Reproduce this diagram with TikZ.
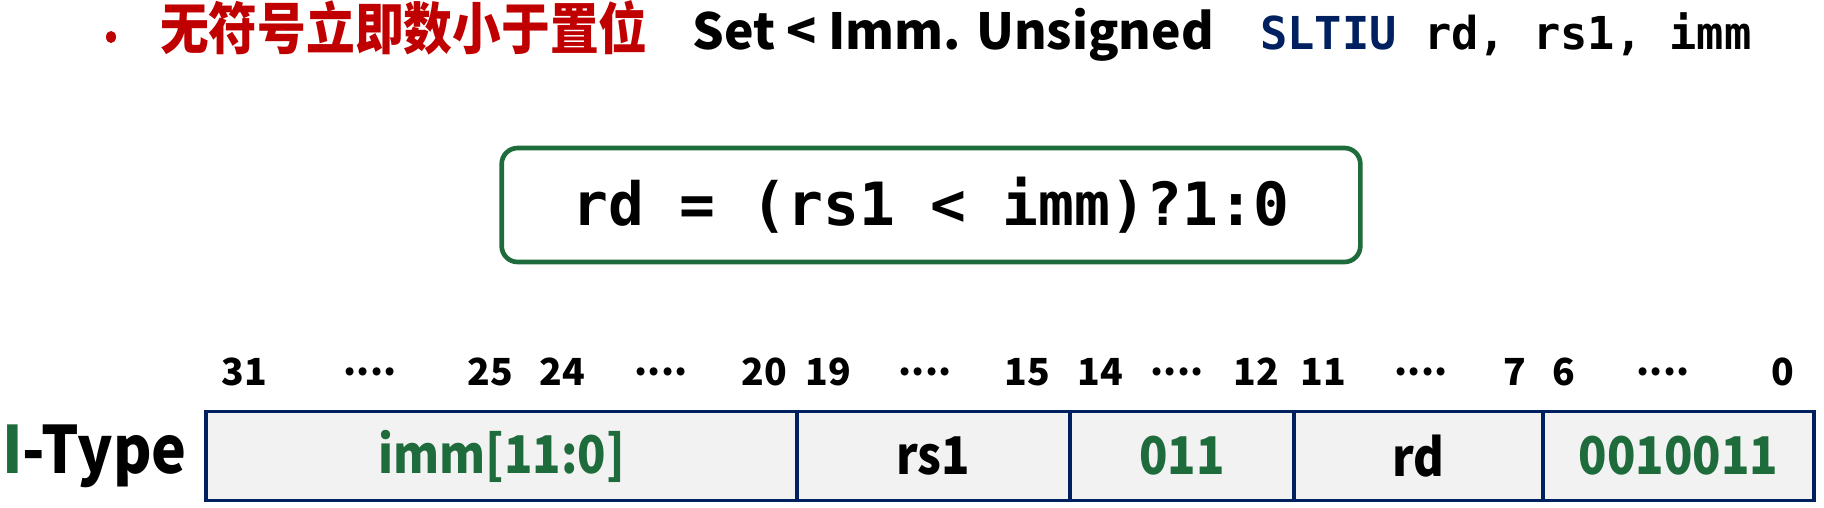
\documentclass[tikz,border=0pt]{standalone}
\usepackage{fontspec}
\setmainfont{Noto Sans CJK SC}
\setmonofont{DejaVu Sans Mono}
\newfontfamily\narrowsans{Noto Sans CJK SC}[FakeStretch=0.9]
\newfontfamily\cnsans{Noto Sans CJK SC}[FakeStretch=0.87]
\usetikzlibrary{positioning}
\usetikzlibrary{shapes.geometric}
\definecolor{titlered}{RGB}{192,0,0}
\definecolor{fieldgreen}{RGB}{30,107,60}
\definecolor{navy}{RGB}{0,32,96}
\definecolor{fieldgray}{RGB}{242,242,242}
\newcommand{\bitdots}{....}
\tikzset{
  field/.style={draw=navy, line width=2.4pt, fill=fieldgray, inner sep=0pt, outer sep=0pt,
    minimum height=66.75pt, font=\fontsize{39}{42}\narrowsans\bfseries},
  bitnum/.style={inner sep=0pt, font=\fontsize{28}{30}\selectfont\bfseries},
}
\begin{document}
\begin{tikzpicture}[x=0.75pt,y=-0.75pt]
  \useasboundingbox (0,0) rectangle (1824,507);
  % title line
  \node[ellipse, fill=titlered, inner sep=0pt, minimum width=7.5pt, minimum height=9pt] (bullet) at (111,37) {};
  \node[anchor=base west, inner sep=0pt, text=titlered, font=\fontsize{42}{44}\cnsans\bfseries] (cn) at (160,49) {无符号立即数小于置位};
  \node[anchor=base west, inner sep=0pt, font=\fontsize{37.3}{40}\selectfont\bfseries] (en) at (692,49) {Set < Imm. Unsigned};
  \node[anchor=base west, inner sep=0pt, font=\fontsize{34}{40}\selectfont\ttfamily\bfseries] (asm) at (1260,49) {\textcolor{navy}{SLTIU} rd, rs1, imm};
  % rule box
  \node[draw=fieldgreen, line width=3.5pt, rounded corners=12pt, minimum width=644pt, minimum height=85.5pt,
    font=\fontsize{44.7}{48}\selectfont\ttfamily\bfseries] (rule) at (931,205) {rd = (rs1 < imm)?1:0};
  % bit numbers
  \foreach \x/\t in {244/31, 370/\bitdots, 490/25, 562/24, 661/\bitdots, 764/20, 828/19, 925/\bitdots, 1027/15,
    1100/14, 1177/\bitdots, 1256/12, 1323/11, 1421/\bitdots, 1515/7, 1564/6, 1663/\bitdots, 1783/0}
    \node[bitnum] (b\x) at (\x,372) {\t};
  % instruction fields
  \node[field, minimum width=443.25pt, anchor=west, text=fieldgreen] (imm) at (206,456) {imm[11:0]};
  \node[field, minimum width=204.75pt, right=0pt of imm] (rs1) {rs1};
  \node[field, minimum width=168pt, right=0pt of rs1, text=fieldgreen] (funct3) {011};
  \node[field, minimum width=186.75pt, right=0pt of funct3] (rd) {rd};
  \node[field, minimum width=203.25pt, right=0pt of rd, text=fieldgreen] (opcode) {0010011};
  % format name
  \node[anchor=west, inner sep=0pt, font=\fontsize{49}{52}\narrowsans\bfseries] (itype) at (2,456) {\textcolor{fieldgreen}{I}-Type};
\end{tikzpicture}
\end{document}
